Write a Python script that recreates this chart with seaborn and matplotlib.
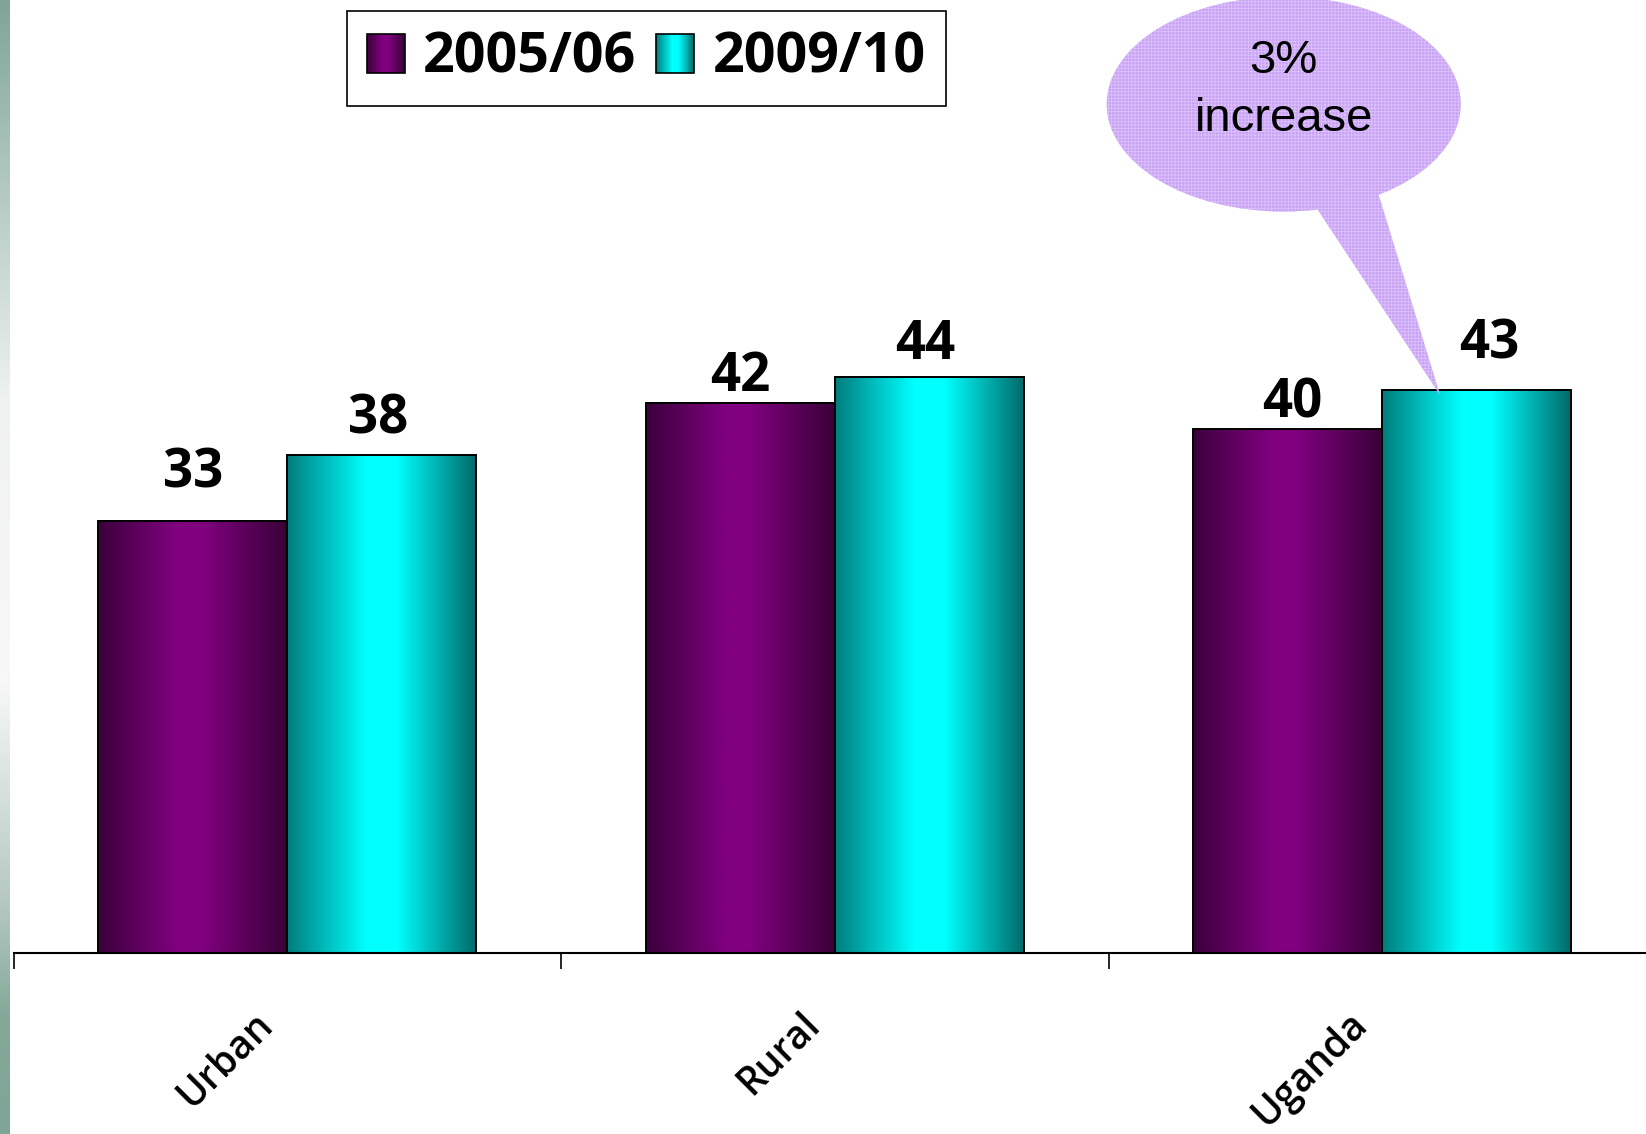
import numpy as np
import pandas as pd
import matplotlib
matplotlib.use("Agg")
import matplotlib.pyplot as plt
import seaborn as sns
from matplotlib.colors import LinearSegmentedColormap
from matplotlib.patches import Rectangle, Ellipse, Polygon
from matplotlib.legend_handler import HandlerBase
from matplotlib.transforms import ScaledTranslation
from matplotlib.font_manager import FontProperties

# ---- data -------------------------------------------------------------
areas = ["Urban", "Rural", "Uganda"]
periods = ["2005/06", "2009/10"]
values_2005_06 = [33, 42, 40]
values_2009_10 = [38, 44, 43]
callout_lines = ["3%", "increase"]

# vertical lift (pixels) of each value label above its bar, per period
label_lift_px = [[33.7, 12.0, 11.7], [21.7, 17.7, 31.0]]
# horizontal nudge (pixels) of each value label, per period
label_nudge_px = [[0, 0, 4], [-4, -4, 12]]

df = pd.DataFrame({
    "area": areas * 2,
    "period": [periods[0]] * len(areas) + [periods[1]] * len(areas),
    "value": values_2005_06 + values_2009_10,
})

# ---- style ------------------------------------------------------------
sns.set_theme(style="white")
plt.rcParams["font.family"] = ["Open Sans", "DejaVu Sans"]
plt.rcParams["hatch.linewidth"] = 0.6
plt.rcParams["text.color"] = "black"
plt.rcParams["xtick.color"] = "black"
plt.rcParams["xtick.labelcolor"] = "black"

W, H = 1646, 1134
fig = plt.figure(figsize=(W / 100, H / 100), dpi=100)
fig.patch.set_facecolor("white")

# decorative vertical strip on the left edge
strip_cmap = LinearSegmentedColormap.from_list(
    "strip", [(0.0, "#80a597"), (0.35, "#eef2f0"), (0.6, "#f7f9f8"),
              (0.8, "#b5c8c0"), (0.9, "#84a999"), (1.0, "#7fa596")])
sax = fig.add_axes([0, 0, 10 / W, 1])
sax.imshow(np.linspace(0, 1, 256).reshape(-1, 1), cmap=strip_cmap,
           aspect="auto", interpolation="bilinear")
sax.axis("off")

# main axes: baseline at 953 px, 547.5 px per category
base_px, unit_px, cat_px, left_px = 953, 13.1, 547.5, 13.6
ax = fig.add_axes([left_px / W, 1 - base_px / H, 3 * cat_px / W, base_px / H])
ax.set_facecolor("none")

purple_cmap = LinearSegmentedColormap.from_list(
    "purple", [(0.0, "#3c003c"), (0.42, "#800080"), (0.55, "#800080"), (1.0, "#3a0038")])
cyan_cmap = LinearSegmentedColormap.from_list(
    "cyan", [(0.0, "#007d7d"), (0.42, "#00ffff"), (0.58, "#00ffff"), (1.0, "#006a6a")])
cmaps = [purple_cmap, cyan_cmap]

sns.barplot(data=df, x="area", y="value", hue="period", order=areas,
            hue_order=periods, palette=["#800080", "#00ffff"], saturation=1,
            width=0.69, gap=0, errorbar=None, edgecolor="black",
            linewidth=1.4, legend=False, ax=ax)

# horizontal shading inside each bar
grad = np.linspace(0, 1, 256).reshape(1, -1)
for container, cmap in zip(ax.containers, cmaps):
    for bar in container:
        x0, w, h = bar.get_x(), bar.get_width(), bar.get_height()
        ax.imshow(grad, cmap=cmap, extent=[x0, x0 + w, 0, h], aspect="auto",
                  interpolation="bilinear", zorder=1.5)
        bar.set_facecolor("none")
        bar.set_zorder(2)

# value labels
for container, lifts, nudges in zip(ax.containers, label_lift_px, label_nudge_px):
    for bar, lift, nudge in zip(container, lifts, nudges):
        ax.annotate(f"{bar.get_height():.0f}",
                    xy=(bar.get_x() + bar.get_width() / 2, bar.get_height()),
                    xytext=(nudge * 0.72, lift * 0.72), textcoords="offset points",
                    ha="center", va="baseline", fontsize=38, fontweight="bold",
                    color="black", zorder=4)

ax.set_xlim(-0.5, 2.5)
ax.set_ylim(0, base_px / unit_px)
for s in ["top", "right", "left"]:
    ax.spines[s].set_visible(False)
ax.spines["bottom"].set_color("black")
ax.spines["bottom"].set_linewidth(1.5)
ax.spines["bottom"].set_zorder(3)
ax.set_yticks([])
ax.set_xlabel("")
ax.set_ylabel("")

ax.set_xticks(range(len(areas)))
ax.set_xticklabels(areas, rotation=45, ha="right", va="top",
                   rotation_mode="default", fontsize=28, fontweight="semibold",
                   color="black")
ax.set_xticks([-0.5, 0.5, 1.5, 2.5], minor=True)
ax.tick_params(axis="x", which="minor", bottom=True, length=11.5, width=1.2,
               color="black", direction="out")
ax.tick_params(axis="x", which="major", bottom=False, length=0, pad=37)
shift = ScaledTranslation(-0.06, 0, fig.dpi_scale_trans)
for lab in ax.get_xticklabels():
    lab.set_transform(lab.get_transform() + shift)

# speech-bubble callout pointing at the 2009/10 Uganda bar
bubble_face = "#c9a2f4"
bubble_hatch = "#dcc3fb"
cx, cy = 1.8198, 64.8
ell = Ellipse((cx, cy), 0.6466, 16.4, facecolor=bubble_face,
              edgecolor=bubble_hatch, linewidth=0, hatch="+++++",
              zorder=5, clip_on=False)
ax.add_patch(ell)
tail = Polygon([(1.862, 58.0), (1.985, 59.0), (2.1053, values_2009_10[2] - 0.4)],
               closed=True, facecolor=bubble_face, edgecolor=bubble_hatch,
               linewidth=0, hatch="+++++", zorder=5, clip_on=False)
ax.add_patch(tail)
ax.text(cx, 67.15, callout_lines[0], ha="center", va="baseline", fontsize=34,
        family="Liberation Sans", color="black", zorder=6)
ax.text(cx, 62.77, callout_lines[1], ha="center", va="baseline", fontsize=34,
        family="Liberation Sans", color="black", zorder=6)

# legend with shaded swatches
class GradientSwatch(HandlerBase):
    def __init__(self, cmap, n=40):
        super().__init__()
        self.cmap = cmap
        self.n = n

    def create_artists(self, legend, orig_handle, xdescent, ydescent,
                       width, height, fontsize, trans):
        arts = []
        step = width / self.n
        for i in range(self.n):
            arts.append(Rectangle((-xdescent + i * step, -ydescent), step * 1.05,
                                  height, facecolor=self.cmap((i + 0.5) / self.n),
                                  edgecolor="none", transform=trans))
        arts.append(Rectangle((-xdescent, -ydescent), width, height,
                              facecolor="none", edgecolor="black",
                              linewidth=1.2, transform=trans))
        return arts

handles = [Rectangle((0, 0), 1, 1) for _ in periods]
leg = fig.legend(handles, periods, loc="upper left",
                 bbox_to_anchor=(347 / W, 1 - 10.5 / H), ncol=2,
                 frameon=True, fancybox=False, edgecolor="black", framealpha=1,
                 borderpad=0.36, handlelength=0.68, handleheight=0.7,
                 handletextpad=0.33, columnspacing=0.36, borderaxespad=0,
                 labelcolor="black",
                 prop=FontProperties(family="Open Sans", weight="bold", size=40),
                 handler_map={h: GradientSwatch(c) for h, c in zip(handles, cmaps)})
leg.get_frame().set_linewidth(1.2)

fig.savefig("out.png", dpi=100)
